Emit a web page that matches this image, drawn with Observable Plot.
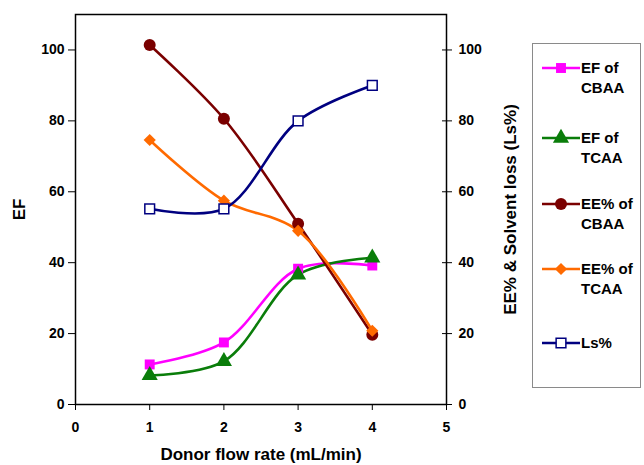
<!DOCTYPE html>
<html><head><meta charset="utf-8">
<script src="https://cdn.jsdelivr.net/npm/d3@7"></script>
<script src="https://cdn.jsdelivr.net/npm/@observablehq/plot@0.6"></script>
<style>
body{margin:0;background:#fff;font-family:"Liberation Sans",Arial,sans-serif;}
#wrap{position:relative;width:644px;height:465px;overflow:hidden;}
#legend{position:absolute;left:532px;top:43px;width:109px;height:345px;border:1px solid #8a8a8a;box-sizing:border-box;}
</style></head><body><div id="wrap"></div>
<script>
const flowRate=[1,2,3,4];
const efCBAA=[11.3,17.5,38.3,39.2];
const efTCAA=[8.2,12.2,36.6,41.4];
const eeCBAA=[101.4,80.6,51,19.7];
const eeTCAA=[74.6,57.5,49,20.8];
const lsPct=[55.2,55.2,80,90];
const xTicks=[0,1,2,3,4,5];
const yTicks=[0,20,40,60,80,100];
const seriesNames=["EF of CBAA","EF of TCAA","EE% of CBAA","EE% of TCAA","Ls%"];
const legendLines=[["EF of","CBAA"],["EF of","TCAA"],["EE% of","CBAA"],["EE% of","TCAA"],["Ls%"]];
const seriesColors=["#ff00ff","#0a7d0a","#7a0000","#ff6a00","#000080"];
const seriesSymbols=["square","triangle","circle","diamond2","square"];
const seriesFill=["#ff00ff","#0a7d0a","#7a0000","#ff6a00","white"];
const seriesR=[5.6,6,6,5.5,5.5];
const seriesValues=[efCBAA,efTCAA,eeCBAA,eeTCAA,lsPct];

const data=[];
seriesNames.forEach((s,i)=>flowRate.forEach((x,j)=>data.push({series:s,idx:i,x,y:seriesValues[i][j]})));

const font='"Liberation Sans",Arial,sans-serif';
const marks=[];
seriesNames.forEach((s,i)=>{
  const d=data.filter(r=>r.idx===i);
  marks.push(Plot.line(d,{x:"x",y:"y",stroke:seriesColors[i],strokeWidth:2.6,curve:"catmull-rom"}));
});
seriesNames.forEach((s,i)=>{
  const d=data.filter(r=>r.idx===i);
  marks.push(Plot.dot(d,{x:"x",y:"y",symbol:()=>seriesSymbols[i],r:seriesR[i],fill:seriesFill[i],stroke:seriesColors[i],strokeWidth:i===4?1.5:0}));
});

const chart=Plot.plot({
  width:644,height:465,
  marginLeft:75,marginRight:198,marginTop:14,marginBottom:61,
  style:{fontFamily:font,background:"white"},
  x:{domain:[0,5]},
  y:{domain:[0,110]},
  symbol:{type:"identity"},
  marks:[
    Plot.axisX({ticks:xTicks,tickFormat:"d",tickSize:6,tickPadding:12,fontSize:14,fontWeight:"bold",label:null,stroke:"black"}),
    Plot.axisY({anchor:"left",ticks:yTicks,tickFormat:"d",tickSize:7,tickPadding:4,fontSize:14,fontWeight:"bold",label:null}),
    Plot.axisY({anchor:"right",ticks:yTicks,tickFormat:"d",tickSize:5,tickPadding:7,fontSize:14,fontWeight:"bold",label:null}),
    Plot.axisY({anchor:"right",ticks:yTicks,tickSize:5,insetRight:5,tickFormat:()=>"",label:null}),
    Plot.frame({stroke:"black",strokeWidth:1.5}),
    ...marks,
    Plot.text(["EF"],{frameAnchor:"left",dx:-56,rotate:-90,textAnchor:"middle",lineAnchor:"middle",fontSize:17,fontWeight:"bold",fill:"black",text:d=>d}),
    Plot.text(["EE% & Solvent loss (Ls%)"],{frameAnchor:"right",dx:64,rotate:-90,textAnchor:"middle",lineAnchor:"middle",fontSize:17,fontWeight:"bold",fill:"black",text:d=>d}),
    Plot.text(["Donor flow rate (mL/min)"],{frameAnchor:"bottom",dy:50,textAnchor:"middle",lineAnchor:"middle",fontSize:17,fontWeight:"bold",fill:"black",text:d=>d})
  ]
});
const wrap=document.getElementById("wrap");
wrap.appendChild(chart);

// legend
const leg=document.createElement("div");
leg.id="legend";
wrap.appendChild(leg);
const lsvg=d3.select(leg).append("svg").attr("width",109).attr("height",345).style("position","absolute").style("left","-1px").style("top","-1px");
const entryY=[25,95,161,226,300];
const symMap={square:d3.symbolSquare,triangle:d3.symbolTriangle,circle:d3.symbolCircle,diamond2:d3.symbolDiamond2};
seriesNames.forEach((s,i)=>{
  const g=lsvg.append("g").attr("transform",`translate(0,${entryY[i]})`);
  g.append("line").attr("x1",10).attr("x2",48).attr("y1",0).attr("y2",0).attr("stroke",seriesColors[i]).attr("stroke-width",2.6);
  g.append("path").attr("transform","translate(29,0)").attr("d",d3.symbol(symMap[seriesSymbols[i]],Math.PI*seriesR[i]*seriesR[i])())
    .attr("fill",seriesFill[i]).attr("stroke",seriesColors[i]).attr("stroke-width",i===4?1.5:0);
  legendLines[i].forEach((t,k)=>{
    g.append("text").attr("x",49).attr("y",k*20).attr("dy","0.35em").attr("font-family",font).attr("font-size",15).attr("font-weight","bold").text(t);
  });
});
</script></body></html>
